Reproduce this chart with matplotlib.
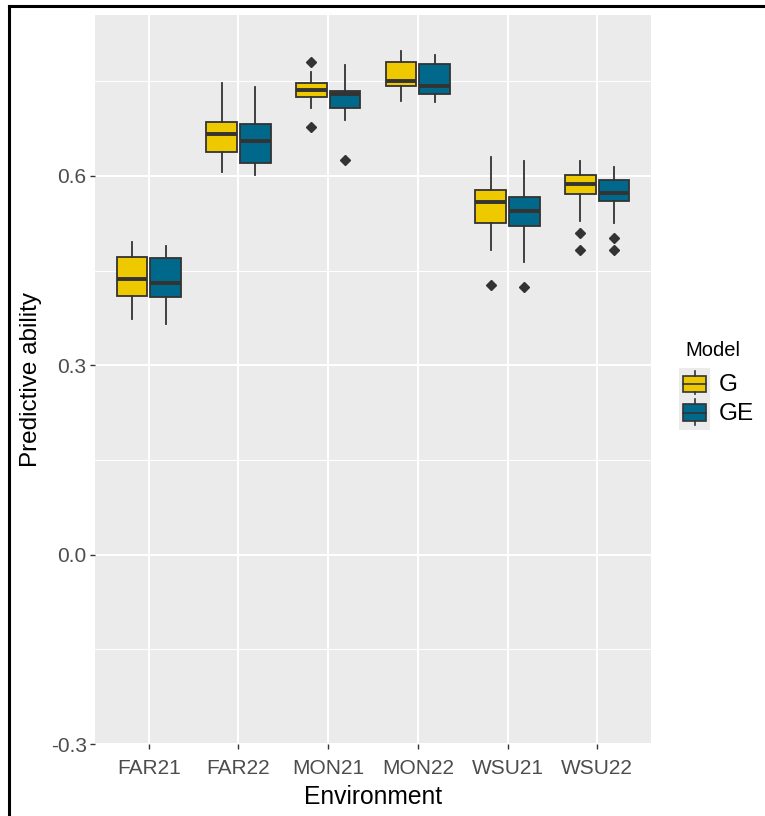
import matplotlib
matplotlib.use("Agg")
import matplotlib.pyplot as plt
from matplotlib.patches import Rectangle
from matplotlib.lines import Line2D

plt.rcParams["font.family"] = ["Liberation Sans", "DejaVu Sans"]

# ---- data: five-number summaries per environment and model ----
environments = ["FAR21", "FAR22", "MON21", "MON22", "WSU21", "WSU22"]
models = ["G", "GE"]
model_colors = ["#EEC900", "#00688B"]

g_low = [0.373, 0.607, 0.708, 0.719, 0.482, 0.528]
g_q1 = [0.410, 0.638, 0.725, 0.743, 0.525, 0.572]
g_med = [0.436, 0.666, 0.736, 0.751, 0.558, 0.587]
g_q3 = [0.471, 0.686, 0.747, 0.780, 0.577, 0.601]
g_high = [0.495, 0.748, 0.764, 0.798, 0.630, 0.623]
g_out = [[], [], [0.781, 0.678], [], [0.428], [0.510, 0.482]]

ge_low = [0.366, 0.602, 0.688, 0.717, 0.464, 0.525]
ge_q1 = [0.408, 0.621, 0.708, 0.730, 0.521, 0.560]
ge_med = [0.431, 0.655, 0.730, 0.743, 0.544, 0.573]
ge_q3 = [0.470, 0.682, 0.735, 0.778, 0.566, 0.593]
ge_high = [0.489, 0.741, 0.775, 0.792, 0.623, 0.614]
ge_out = [[], [], [0.626], [], [0.424], [0.502, 0.483]]

y_ticks = [-0.3, 0.0, 0.3, 0.6]
y_minor = [-0.15, 0.15, 0.45, 0.75]

summaries = {
    "G": (g_low, g_q1, g_med, g_q3, g_high, g_out),
    "GE": (ge_low, ge_q1, ge_med, ge_q3, ge_high, ge_out),
}

W, H = 765, 816
fig = plt.figure(figsize=(W / 100, H / 100), dpi=100)
fig.patch.set_facecolor("white")

# panel placement in pixels
pl, pr, pt, pb = 95, 651, 15, 744
ax = fig.add_axes([pl / W, 1 - pb / H, (pr - pl) / W, (pb - pt) / H])
ax.set_facecolor("#EBEBEB")
for s in ax.spines.values():
    s.set_visible(False)

edge = "#333333"
dodge = 0.1875
box_w = 0.345

for k, m in enumerate(models):
    lo, q1, med, q3, hi, out = summaries[m]
    stats = []
    for i in range(len(environments)):
        stats.append(dict(whislo=lo[i], q1=q1[i], med=med[i], q3=q3[i],
                          whishi=hi[i], fliers=out[i]))
    pos = [i + 1 + (dodge if k else -dodge) for i in range(len(environments))]
    ax.bxp(stats, positions=pos, widths=box_w, patch_artist=True,
           showcaps=False, manage_ticks=False, zorder=3,
           boxprops=dict(facecolor=model_colors[k], edgecolor=edge, linewidth=1.3),
           medianprops=dict(color=edge, linewidth=2.8, solid_capstyle="butt"),
           whiskerprops=dict(color=edge, linewidth=1.3),
           flierprops=dict(marker="D", markersize=4.6, markerfacecolor=edge,
                           markeredgecolor=edge))

ax.set_xlim(0.4, 6.6)
ax.set_ylim(-0.3, 0.855)

ax.set_yticks(y_ticks)
ax.set_yticklabels([f"{v:.1f}" for v in y_ticks])
ax.set_yticks(y_minor, minor=True)
ax.set_xticks(range(1, len(environments) + 1))
ax.set_xticklabels(environments)

ax.grid(True, which="major", color="white", linewidth=1.5, zorder=0)
ax.grid(True, which="minor", axis="y", color="white", linewidth=0.75, zorder=0)
ax.set_axisbelow(True)
ax.tick_params(axis="both", which="major", length=3.5, width=1.0, color=edge,
               labelsize=15, labelcolor="#4D4D4D", pad=2.5)
ax.tick_params(axis="x", which="major", pad=7.5)
ax.tick_params(axis="y", which="minor", length=0)

ax.set_xlabel("Environment", fontsize=17.7, color="black", labelpad=5)
ax.set_ylabel("Predictive ability", fontsize=17.5, color="black", labelpad=6)

# ---- legend ----
fig.text(685 / W, 1 - 350 / H, "Model", fontsize=14.5, ha="left", va="center")
lax = fig.add_axes([679 / W, 1 - 430 / H, 31 / W, 62 / H])
lax.set_xlim(0, 31)
lax.set_ylim(62, 0)
lax.set_facecolor("#EBEBEB")
lax.set_xticks([])
lax.set_yticks([])
for s in lax.spines.values():
    s.set_visible(False)
key_rows = [(3, 8, 24, 26), (31, 36, 53, 57)]
for (wt, bt, bb, wb), c in zip(key_rows, model_colors):
    lax.add_line(Line2D([15.5, 15.5], [wt, bt], color=edge, linewidth=1.2))
    lax.add_line(Line2D([15.5, 15.5], [bb, wb], color=edge, linewidth=1.2))
    lax.add_patch(Rectangle((4, bt), 23, bb - bt, facecolor=c, edgecolor=edge,
                            linewidth=1.2))
    lax.add_line(Line2D([4, 27], [(bt + bb) / 2] * 2, color=edge, linewidth=1.2))
for lbl, yy in zip(models, [385, 414]):
    fig.text(719 / W, 1 - yy / H, lbl, fontsize=17.5, ha="left", va="center")

# outer frame on the left and top edges
fig.add_artist(Line2D([8.5 / W, 8.5 / W], [0, 1 - 6 / H], color="black",
                      linewidth=2.2, transform=fig.transFigure))
fig.add_artist(Line2D([8.5 / W, 1], [1 - 6 / H, 1 - 6 / H], color="black",
                      linewidth=2.2, transform=fig.transFigure))

fig.savefig("out.png", dpi=100)
